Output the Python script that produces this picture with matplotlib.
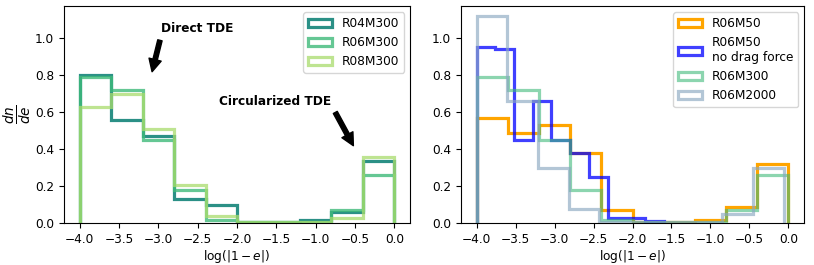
import matplotlib
matplotlib.use("Agg")
import matplotlib.pyplot as plt
import numpy as np

plt.rcParams['font.size'] = 8.7

# bin edges
edges = np.linspace(-4.0, 0.0, 11)
edges_nodrag = np.linspace(-4.0, -1.6, 11)
edges_m2000 = np.linspace(-4.0, -0.06, 11)

# dn/de per bin
r04m300 = [0.80, 0.56, 0.47, 0.13, 0.10, 0.01, 0.005, 0.02, 0.06, 0.34]
r06m300 = [0.79, 0.72, 0.45, 0.18, 0.02, 0.005, 0.005, 0.01, 0.07, 0.26]
r08m300 = [0.63, 0.70, 0.51, 0.21, 0.04, 0.01, 0.005, 0.005, 0.03, 0.36]

r06m50 = [0.57, 0.49, 0.53, 0.38, 0.07, 0.01, 0.01, 0.02, 0.09, 0.32]
r06m50_nodrag = [0.955, 0.945, 0.45, 0.66, 0.45, 0.38, 0.25, 0.027, 0.027, 0.012]
r06m2000 = [1.12, 0.66, 0.30, 0.08, 0.01, 0.005, 0.005, 0.005, 0.05, 0.30]


def step(ax, e, vals, **kw):
    e = np.asarray(e)
    centers = 0.5 * (e[1:] + e[:-1])
    ax.hist(centers, bins=e, weights=vals, histtype='step', linewidth=2.3, **kw)


fig = plt.figure(figsize=(8.14, 2.65), dpi=100)
ax1 = fig.add_axes([64 / 814, 0.157, 346 / 814, 0.82])
ax2 = fig.add_axes([461 / 814, 0.157, 343 / 814, 0.82])

step(ax1, edges, r04m300, color='#1f8a80', alpha=0.95, label='R04M300')
step(ax1, edges, r06m300, color='#3fba7a', alpha=0.8, label='R06M300')
step(ax1, edges, r08m300, color='#a8dc6c', alpha=0.75, label='R08M300')

step(ax2, edges, r06m50, color='orange', label='R06M50')
step(ax2, edges_nodrag, r06m50_nodrag, color='blue', alpha=0.75,
     label='R06M50\nno drag force')
step(ax2, edges, r06m300, color='#3fba7a', alpha=0.6, label='R06M300')
step(ax2, edges_m2000, r06m2000, color='#8aa8c0', alpha=0.65, label='R06M2000')

for ax in (ax1, ax2):
    ax.set_xlim(-4.2, 0.2)
    ax.set_ylim(0, 1.175)
    ax.set_xlabel(r'$\log(|1-e|)$', labelpad=1)
    ax.set_yticks([0.0, 0.2, 0.4, 0.6, 0.8, 1.0])
    ax.legend(loc='upper right', fontsize=8.7)

ax1.set_ylabel(r'$\frac{dn}{de}$', fontsize=14, labelpad=1)

arrow = dict(facecolor='black', edgecolor='black', width=3.2,
             headwidth=9, headlength=9, shrink=0.0)
ax1.text(-2.5, 1.055, 'Direct TDE', ha='center', va='center',
         fontsize=8.7, fontweight='bold')
ax1.annotate('', xy=(-3.08, 0.82), xytext=(-2.98, 0.99), arrowprops=arrow)
ax1.text(-1.51, 0.66, 'Circularized TDE', ha='center', va='center',
         fontsize=8.7, fontweight='bold')
ax1.annotate('', xy=(-0.52, 0.42), xytext=(-0.75, 0.60), arrowprops=arrow)

fig.savefig('out.png', dpi=100)
